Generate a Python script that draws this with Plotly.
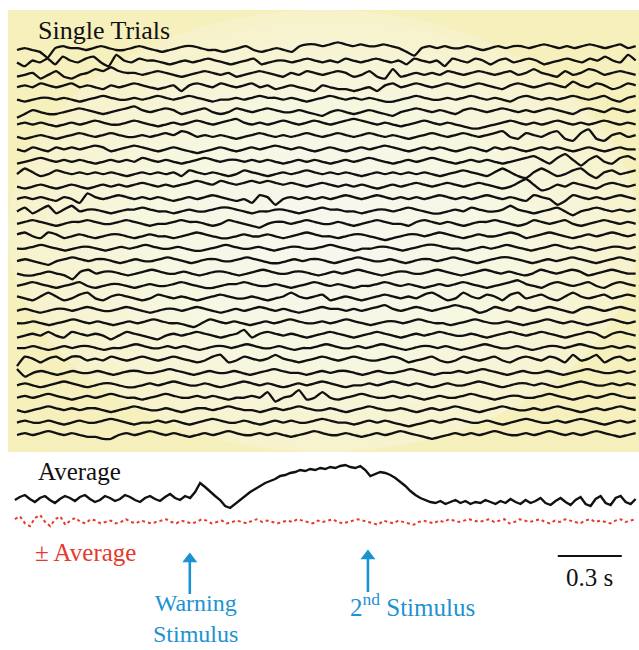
import numpy as np
import plotly.graph_objects as go

# ---------------------------------------------------------------
# Single-trial EEG sweeps (arbitrary amplitude units, + = up)
# ---------------------------------------------------------------
trial_01 = [0,1,0,-1,-4,1,2,1,1,0,1,2,1,0,0,1,2,1,0,-1,0,1,2,2,1,0,0,-1,0,1,2,0,-1,0,1,0,-1,2,3,3,2,3,4,3,2,3,2,2,3,2,1,-1,-3,1,2,1,2,1,1,2,1,0,1,2,1,2,2,1,2,3,2,1,2,1,2,3,2,1,2,3,1,2]
trial_02 = [0,-2,1,0,2,-1,3,1,0,2,3,0,-2,4,1,0,2,1,1,0,-1,0,1,0,1,2,1,0,-1,0,1,2,-1,0,1,1,0,1,2,1,0,1,0,2,1,0,1,2,1,0,1,-1,2,1,0,1,-2,2,1,0,2,1,-1,1,2,0,1,2,1,-1,0,1,2,1,0,2,1,3,1,0,4,1]
trial_03 = [-1,0,1,-2,0,2,-1,-2,0,1,3,2,4,2,1,1,0,1,2,1,0,-1,0,1,2,1,0,1,-1,0,1,2,1,0,-1,1,0,2,1,0,1,2,1,-1,0,2,-1,-2,3,-1,0,1,0,1,0,2,1,0,1,2,1,0,1,2,0,1,3,1,0,-1,2,0,1,3,2,0,1,2,1,0]
trial_04 = [0,1,0,2,1,0,1,2,0,1,0,-1,1,0,1,2,1,0,-1,0,1,-2,1,2,1,0,2,1,0,1,2,0,1,-1,0,1,0,-1,-2,1,0,-1,-1,-2,-1,0,-2,1,2,0,1,2,1,0,1,2,1,0,1,2,1,0,-1,1,2,1,0,1,2,1,0,3,1,0,2,1,-1,0,2,1]
trial_05 = [0,-1,0,1,1,0,1,0,-1,0,1,2,1,0,0,1,0,1,2,1,0,1,2,1,0,-1,0,0,1,0,1,2,1,1,0,1,0,-1,0,1,2,1,0,1,0,1,0,-1,-1,0,1,2,1,0,0,1,0,1,2,1,0,1,0,-1,1,2,1,0,1,0,1,2,1,0,1,2,0,-1,1,2]
trial_06 = [-3,-1,1,0,-1,-1,0,1,2,1,0,-1,0,1,2,3,1,0,1,2,1,-1,0,1,2,0,-1,0,2,1,0,1,2,1,0,0,1,0,-1,-2,0,1,0,-1,0,1,0,-1,-2,0,1,2,1,0,1,0,-1,1,2,1,0,1,2,1,0,1,0,1,2,1,0,-1,1,2,1,0,2,1,0,1]
trial_07 = [0,1,0,1,0,-1,0,1,0,1,2,1,0,0,1,2,1,0,-1,0,1,0,1,2,1,0,1,2,3,1,0,1,0,1,2,1,0,1,2,1,0,1,2,3,2,1,0,1,0,-1,0,1,2,1,0,1,0,-1,-2,-2,-1,0,1,2,1,0,1,0,1,2,1,0,1,0,1,2,1,0,1,0]
trial_08 = [0,-1,0,1,0,-1,0,1,2,1,0,1,2,1,0,0,1,0,1,2,1,3,2,0,1,0,1,0,-1,0,1,2,1,0,1,0,1,2,1,0,1,2,1,0,1,2,1,0,1,0,-1,0,1,2,1,0,1,2,1,0,1,2,3,0,-1,2,1,0,2,3,-1,-2,2,4,-1,-2,1,2,0,1]
trial_09 = [0,-1,1,0,-1,1,0,1,0,1,2,1,-1,0,1,2,1,0,-1,0,1,0,-1,-2,-1,0,1,0,-1,0,1,0,1,2,1,0,1,0,-1,0,1,0,-1,0,1,0,1,2,1,0,-1,0,1,0,1,0,-1,0,1,0,-1,1,0,1,0,-1,0,1,0,1,0,-1,0,1,0,-1,0,1,0,0]
trial_10 = [-1,0,1,2,1,0,1,0,1,0,-1,0,1,0,1,0,2,1,0,1,0,-1,0,1,2,1,0,1,1,0,1,0,1,0,-1,0,1,0,1,0,-1,0,1,0,1,2,1,0,-1,0,1,0,1,2,1,0,-1,0,1,0,1,0,-1,0,1,2,3,1,-1,2,4,1,-2,1,3,0,-1,2,3,1]
trial_11 = [0,3,1,-1,0,2,1,0,1,0,1,0,1,0,-1,0,1,0,1,0,1,-1,2,1,0,1,0,-1,0,2,1,0,-1,0,1,0,1,2,1,0,1,0,1,0,-1,0,1,0,1,0,1,0,1,0,-1,0,1,2,1,0,-1,1,3,1,-1,-2,1,3,1,-1,0,2,3,0,-2,1,2,0,1,2]
trial_12 = [0,-1,0,1,0,-1,0,1,0,-1,0,1,0,1,0,1,2,1,0,1,0,1,2,3,2,1,3,2,1,2,3,2,3,2,1,2,1,0,1,2,1,0,1,0,1,0,-1,0,1,0,1,2,1,0,1,2,1,0,1,2,1,0,-1,0,2,4,1,-2,-1,1,0,2,1,0,-1,1,2,1,0,1]
trial_13 = [0,1,0,1,0,-1,1,0,-2,3,1,0,1,2,1,0,1,0,1,0,-1,0,1,0,1,2,1,0,-1,0,-2,2,1,-3,0,1,0,1,0,1,0,1,2,1,0,1,2,1,0,1,0,1,0,1,2,1,0,1,0,1,2,1,0,1,0,-1,2,1,0,-3,-1,2,1,0,1,0,1,2,1,0]
trial_14 = [0,2,-1,1,3,-1,1,3,0,1,1,0,-1,0,1,1,2,1,0,0,-1,0,1,0,0,1,2,2,1,0,-1,0,0,1,1,0,-1,0,1,2,1,1,0,0,-1,0,1,1,0,1,2,1,0,-1,-1,0,1,0,2,1,0,0,1,3,1,0,-1,0,1,2,0,-2,0,1,2,1,0,1,0,1]
trial_15 = [0,1,2,1,0,-1,0,1,1,2,1,0,0,1,2,1,0,-1,0,0,1,2,1,1,0,-1,0,2,1,0,-1,-2,0,1,1,0,1,2,1,0,0,1,0,-1,0,1,2,1,0,0,-1,1,2,1,0,1,0,-1,0,1,1,2,1,0,-1,0,2,1,0,1,2,0,-1,0,1,2,1,0,1,0]
trial_16 = [1,2,0,-1,2,1,-1,0,1,0,-1,0,1,1,0,-1,0,1,0,0,-1,0,1,2,1,0,-1,-1,0,1,0,0,1,0,-1,0,1,2,1,0,0,-1,0,1,1,0,-1,-2,-1,0,1,1,0,1,2,1,0,-1,0,1,0,0,1,2,1,-1,0,1,2,1,0,-1,0,1,0,1,2,1,0,1]
trial_17 = [0,0,1,2,1,0,-1,0,1,1,0,-1,0,1,0,1,2,1,0,0,1,0,-1,-1,0,1,2,1,0,0,1,0,-1,0,1,1,0,0,1,2,1,0,-1,0,0,1,1,0,-1,0,1,2,2,1,0,0,-1,0,1,0,1,2,1,0,-1,0,1,2,1,0,1,0,-1,0,1,1,0,1]
trial_18 = [0,1,0,-1,-2,0,1,2,1,0,1,1,0,-1,0,1,0,0,1,2,1,0,-1,0,1,1,0,0,1,2,1,0,-1,-1,0,1,0,1,1,0,-1,0,1,2,1,0,0,1,0,-1,0,1,1,0,1,2,1,0,-1,0,1,2,2,1,0,-1,0,1,0,1,2,1,0,-1,0,1,2,1,0]
trial_19 = [0,-1,-1,0,1,0,-1,-3,1,2,0,1,1,0,-1,0,1,2,1,0,0,1,0,-1,0,1,1,0,-1,0,1,2,1,0,0,1,1,0,-1,0,1,0,1,2,1,0,-1,0,1,1,0,0,1,2,1,0,-1,0,1,2,1,0,1,0,-1,0,2,1,0,1,2,1,-1,0,1,2,1,0,0]
trial_20 = [0,1,2,1,0,-1,0,1,2,0,-1,0,1,1,0,-1,0,1,0,0,1,2,1,0,-1,-1,0,1,1,2,1,0,0,1,0,-1,0,1,2,1,0,1,0,-1,0,0,1,2,1,0,1,0,-1,0,1,0,1,2,1,0,-1,0,1,2,3,1,0,-1,1,2,1,0,1,2,0,-1,1,2,1,0]
trial_21 = [1,0,-1,1,3,1,-1,0,2,3,0,-1,1,2,1,0,-1,0,2,1,0,1,0,-1,0,1,2,1,0,0,1,0,-1,0,1,3,1,0,1,2,-1,0,1,0,-1,0,1,2,1,0,1,0,2,3,1,-1,0,3,1,0,2,1,-1,2,3,0,1,2,0,-1,1,3,1,0,1,2,0,1,2,1]
trial_22 = [0,1,0,-1,0,1,1,0,1,2,1,0,0,1,2,1,0,-1,0,1,1,0,1,2,1,0,-1,0,1,0,1,2,1,0,1,0,-1,0,1,2,1,1,0,1,0,1,2,3,1,0,1,2,1,0,1,2,3,2,1,-1,0,2,1,0,2,1,0,1,2,1,0,-1,1,2,1,0,1,2,1,0]
trial_23 = [0,0,1,0,-1,0,1,2,1,0,1,0,-1,0,1,0,1,2,1,0,0,-1,-2,0,2,1,0,1,0,-1,0,1,0,1,2,1,0,0,1,0,1,2,1,0,-1,0,1,1,0,1,2,1,0,0,-1,0,1,2,1,0,0,1,0,-1,0,1,2,1,0,1,0,-1,0,1,2,1,0,1]
trial_24 = [-1,0,1,0,2,0,-1,2,1,0,1,0,-2,0,2,1,0,-1,-2,0,1,0,1,2,1,0,-1,0,1,3,-1,1,2,1,0,1,0,-1,0,1,2,1,0,-1,0,1,2,1,0,-1,0,1,0,1,2,1,0,0,1,0,-1,0,1,2,1,0,1,2,1,0,-1,0,1,2,1,-1,1,2,1,0]
trial_25 = [0,0,1,0,-1,0,1,0,1,1,0,-1,0,0,1,2,1,0,0,1,0,1,0,-1,0,1,1,0,1,2,1,0,0,1,0,-1,0,0,1,2,1,0,0,1,0,1,2,1,0,-1,0,1,1,0,1,0,-1,0,1,2,1,0,0,1,0,-1,0,1,1,0,1,2,1,0,0,1,0,1,0]
trial_26 = [-3,2,1,-1,1,2,0,2,2,0,1,0,2,1,0,1,2,1,0,1,2,1,0,-1,0,2,3,-1,0,2,1,0,1,3,1,0,-1,0,1,2,1,0,1,2,1,0,0,1,2,1,-1,0,1,2,0,-1,0,2,1,0,1,2,0,-1,1,2,1,0,2,1,-1,3,0,1,3,-1,1,2,0,1]
trial_27 = [2,-2,0,1,0,-1,0,1,0,0,1,0,-1,0,1,1,0,0,1,2,1,0,-1,0,1,0,0,1,0,-1,0,1,2,1,0,0,-1,0,1,0,1,1,0,-1,0,1,0,0,1,2,1,0,-1,0,0,1,0,1,2,1,0,-1,0,1,0,0,1,0,-1,0,1,2,1,0,0,1,0,1]
trial_28 = [0,1,0,-1,0,1,2,1,0,-1,0,1,1,0,-1,-1,0,1,0,1,2,1,0,0,1,0,-1,0,1,2,1,0,1,0,-1,0,1,0,1,2,1,0,-1,0,0,1,0,1,2,1,0,1,0,-1,0,1,0,0,1,2,1,0,-1,0,1,1,0,1,0,-1,0,1,2,1,0,0,1,0,1,0]
trial_29 = [0,1,0,1,2,1,0,-1,0,1,0,1,2,1,0,0,-1,0,1,2,1,0,0,1,0,1,0,-1,0,0,1,0,3,-2,0,1,4,-1,0,3,0,-1,0,1,2,1,0,0,1,0,1,0,-1,0,1,0,0,1,2,1,0,-1,0,1,1,0,0,1,2,1,0,-1,0,1,0,1,2,1,0,0]
trial_30 = [0,-1,0,1,2,1,0,1,0,1,1,0,-1,0,1,2,1,0,0,1,0,-1,0,1,1,0,1,2,1,0,0,-1,0,1,0,1,2,1,0,0,1,0,-1,0,1,2,1,0,0,1,0,-1,0,1,0,1,2,1,0,-1,0,1,2,1,0,0,1,0,1,2,1,0,-1,0,1,0,1,2,1,0]
trial_31 = [0,1,0,0,1,0,-1,0,1,0,0,1,2,1,0,-1,0,0,1,0,1,0,-1,0,1,2,1,0,0,1,0,-1,0,1,0,1,0,0,1,2,1,0,0,-1,0,1,0,1,0,-1,-2,-1,0,1,0,1,2,1,0,0,1,0,-1,0,1,2,1,0,0,1,0,1,2,1,0,-1,0,1,0,1]
trial_32 = [0,1,0,1,2,1,0,1,0,-1,-1,-2,-2,0,1,0,1,2,1,0,1,0,-1,0,1,0,1,2,1,0,0,1,0,1,0,-1,0,1,2,1,0,0,1,0,-1,0,1,0,1,2,1,0,-1,-2,-1,0,1,0,1,0,1,2,1,0,0,1,0,1,2,1,0,1,0,1,2,1,0,-1,0,1]

single_trials = [
    trial_01, trial_02, trial_03, trial_04, trial_05, trial_06, trial_07, trial_08,
    trial_09, trial_10, trial_11, trial_12, trial_13, trial_14, trial_15, trial_16,
    trial_17, trial_18, trial_19, trial_20, trial_21, trial_22, trial_23, trial_24,
    trial_25, trial_26, trial_27, trial_28, trial_29, trial_30, trial_31, trial_32,
]

# Averaged response (same units, + = up)
average = [0,3,5,1,-2,2,4,0,-3,1,4,2,-1,3,5,1,-2,0,4,2,-1,1,5,3,0,-2,2,4,1,-1,3,6,2,0,4,2,
           8,17,13,8,4,0,-6,-8,-4,
           0,4,8,11,14,17,19,21,24,25,27,28,30,
           29,31,30,32,31,33,32,34,35,33,32,34,30,24,26,28,27,25,
           22,18,14,9,5,2,0,-2,
           -3,-1,-4,-2,0,-3,-1,-4,-2,-3,0,-2,-4,-1,-3,1,-2,-4,0,-3,-1,2,-3,-5,-1,2,-2,-5,0,3,-4,-6,1,4,-3,-5,2,4,-2,-4,1]

# Plus/minus average (alternating-sign average, residual noise)
plus_minus_average = [2,4,-1,-3,3,5,0,-3,2,4,-2,1,3,0,-1,2,1,-1,0,1,-1,0,2,0,-1,1,0,-1,0,1,2,0,-1,1,0,-1,0,2,1,-1,
                      0,1,-1,0,1,0,-1,1,2,0,1,0,-1,0,1,0,2,1,0,-1,1,0,1,2,0,-1,0,1,2,1,0,-1,-2,1,0,-1,1,0,-1,-2,
                      0,1,0,-1,1,0,2,1,0,1,2,1,0,1,2,0,1,2,-1,0,2,1,0,1,2,0,-1,1,0,2,1,0,-1,1,2,0,1,0,-1,1,2,0,1,2]

SWEEP_S = 2.9           # sweep duration, seconds
WARNING_T = 0.81        # warning stimulus onset, s
SECOND_T = 1.645        # second stimulus onset, s
SCALE_BAR_S = 0.3

# ---------------------------------------------------------------
W, H = 639, 650
PX_PER_S = 64 / 0.3
X0_PX = 17
x_range = [(0 - X0_PX) / PX_PER_S, (W - X0_PX) / PX_PER_S]

def px(t):
    return X0_PX + t * PX_PER_S

TRIAL_TOP = 50
TRIAL_STEP = (435 - 50) / 31
TRIAL_GAIN = 1.9
AVG_BASE = 500
AVG_GAIN = 1.0
PM_BASE = 522
PM_GAIN = 1.4

BLUE = "#1b93d1"
RED = "#e5392c"

fig = go.Figure()

for i, tr in enumerate(single_trials):
    t = np.linspace(0, SWEEP_S, len(tr))
    y = TRIAL_TOP + i * TRIAL_STEP - np.array(tr) * TRIAL_GAIN
    fig.add_trace(go.Scatter(x=t, y=y, mode="lines",
                             line=dict(color="#111111", width=2.3, shape="spline", smoothing=0.5),
                             hoverinfo="skip", showlegend=False))

t_avg = np.linspace(-0.01, SWEEP_S, len(average))
fig.add_trace(go.Scatter(x=t_avg, y=AVG_BASE - np.array(average) * AVG_GAIN, mode="lines",
                         line=dict(color="#111111", width=2.4),
                         hoverinfo="skip", showlegend=False))

t_pm = np.linspace(-0.01, SWEEP_S, len(plus_minus_average))
fig.add_trace(go.Scatter(x=t_pm, y=PM_BASE - np.array(plus_minus_average) * PM_GAIN, mode="lines",
                         line=dict(color=RED, width=2, dash="dot"),
                         hoverinfo="skip", showlegend=False))

# scale bar
sb_end = SWEEP_S - 0.065
fig.add_trace(go.Scatter(x=[sb_end - SCALE_BAR_S, sb_end], y=[556, 556], mode="lines",
                         line=dict(color="#111111", width=2),
                         hoverinfo="skip", showlegend=False))

# stimulus markers: shaft + arrow head
for t_on, y_head, y_tail in [(WARNING_T, 553, 594), (SECOND_T, 550, 592)]:
    fig.add_trace(go.Scatter(x=[t_on, t_on], y=[y_tail, y_head + 8], mode="lines",
                             line=dict(color=BLUE, width=2.6),
                             hoverinfo="skip", showlegend=False))
    fig.add_trace(go.Scatter(x=[t_on], y=[y_head + 6], mode="markers",
                             marker=dict(symbol="triangle-up", size=13, color=BLUE, line=dict(width=0)),
                             hoverinfo="skip", showlegend=False))

# ---- background panel with soft radial glow ----
def pxx(x):
    return x / W

def pxy(y):
    return 1 - y / H

shapes = [dict(type="rect", xref="paper", yref="paper",
               x0=pxx(8), x1=pxx(639), y0=pxy(452), y1=pxy(10),
               fillcolor="#f6f0bd", line=dict(width=0), layer="below")]
cx, cy = 330, 235
for k in range(14):
    f = 1 - k / 14
    rx, ry = 360 * f, 250 * f
    shapes.append(dict(type="circle", xref="paper", yref="paper",
                       x0=pxx(max(cx - rx, 8)), x1=pxx(min(cx + rx, 639)),
                       y0=pxy(min(cy + ry, 452)), y1=pxy(max(cy - ry, 10)),
                       fillcolor="white", opacity=0.11, line=dict(width=0), layer="below"))

SERIF = "Liberation Serif"

annotations = [
    dict(text="Single Trials", x=pxx(36), y=pxy(30), xanchor="left", yanchor="middle",
         font=dict(family=SERIF, size=26, color="#111111")),
    dict(text="Average", x=pxx(36), y=pxy(471), xanchor="left", yanchor="middle",
         font=dict(family=SERIF, size=25, color="#111111")),
    dict(text="± Average", x=pxx(33), y=pxy(552), xanchor="left", yanchor="middle",
         font=dict(family=SERIF, size=25, color=RED)),
    dict(text="Warning<br>Stimulus", x=pxx(195), y=pxy(649), xanchor="center", yanchor="bottom",
         font=dict(family=SERIF, size=24, color=BLUE)),
    dict(text="2<sup>nd</sup> Stimulus", x=pxx(412), y=pxy(605), xanchor="center", yanchor="middle",
         font=dict(family=SERIF, size=25, color=BLUE)),
    dict(text="0.3 s", x=pxx(px(sb_end - SCALE_BAR_S / 2)), y=pxy(577), xanchor="center", yanchor="middle",
         font=dict(family=SERIF, size=25, color="#111111")),
]
for a in annotations:
    a.setdefault("xref", "paper")
    a.setdefault("yref", "paper")
    a.setdefault("showarrow", False)

fig.update_layout(
    width=W, height=H,
    margin=dict(l=0, r=0, t=0, b=0),
    paper_bgcolor="white", plot_bgcolor="rgba(0,0,0,0)",
    xaxis=dict(range=x_range, visible=False, fixedrange=True),
    yaxis=dict(range=[H, 0], visible=False, fixedrange=True),
    shapes=shapes, annotations=annotations,
    showlegend=False,
)

fig.write_html("out.html")
